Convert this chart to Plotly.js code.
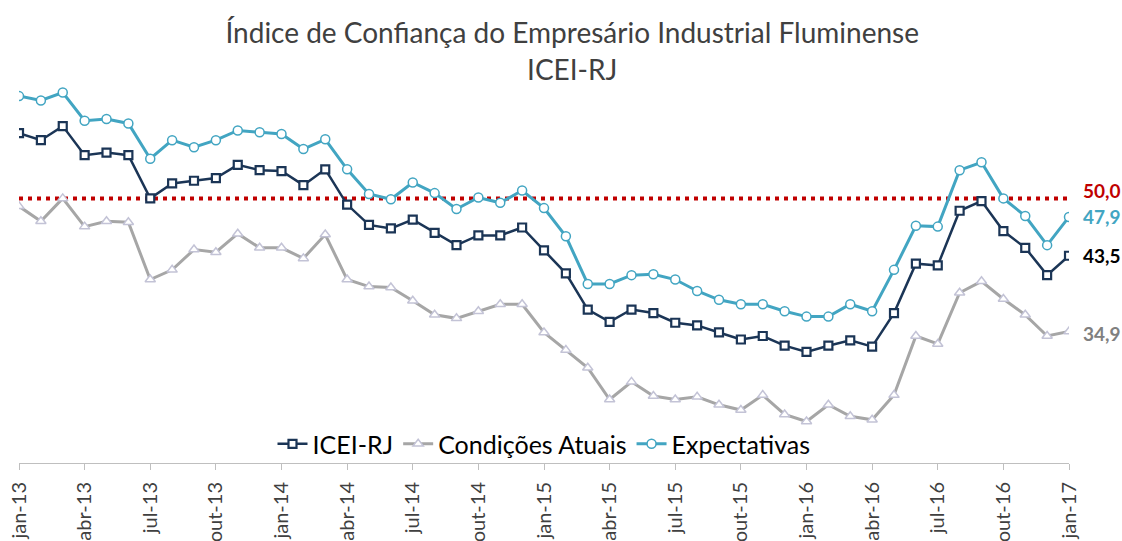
<!DOCTYPE html>
<html>
<head>
<meta charset="utf-8">
<script src="https://cdn.plot.ly/plotly-3.0.1.min.js"></script>
<style>html,body{margin:0;padding:0;background:#fff;}#chart{width:1122px;height:541px;}</style>
</head>
<body>
<div id="chart"></div>
<script>
// Months jan-13 .. jan-17 (49 points)
const months = ["jan-13","fev-13","mar-13","abr-13","mai-13","jun-13","jul-13","ago-13","set-13","out-13","nov-13","dez-13",
"jan-14","fev-14","mar-14","abr-14","mai-14","jun-14","jul-14","ago-14","set-14","out-14","nov-14","dez-14",
"jan-15","fev-15","mar-15","abr-15","mai-15","jun-15","jul-15","ago-15","set-15","out-15","nov-15","dez-15",
"jan-16","fev-16","mar-16","abr-16","mai-16","jun-16","jul-16","ago-16","set-16","out-16","nov-16","dez-16",
"jan-17"];

const icei = [57.4,56.6,58.2,54.9,55.2,54.9,50.0,51.7,52.0,52.3,53.8,53.2,
53.1,51.5,53.3,49.3,47.0,46.6,47.6,46.1,44.7,45.8,45.8,46.7,
44.1,41.5,37.4,36.0,37.4,37.0,35.9,35.6,34.8,34.0,34.4,33.3,
32.6,33.3,33.9,33.2,37.0,42.6,42.4,48.6,49.7,46.3,44.4,41.3,
43.5];

const condicoes = [49.1,47.4,50.0,46.8,47.4,47.3,40.8,41.9,44.2,43.9,46.0,44.4,
44.4,43.2,45.9,40.8,40.0,39.9,38.4,36.8,36.4,37.2,38.0,38.0,
34.8,32.8,30.8,27.2,29.2,27.6,27.2,27.5,26.6,26.0,27.7,25.5,
24.7,26.6,25.3,24.9,27.7,34.4,33.5,39.3,40.6,38.6,36.8,34.4,
34.9];

const expectativas = [61.6,61.1,62.0,58.8,59.0,58.5,54.5,56.6,55.8,56.6,57.7,57.5,
57.3,55.6,56.7,53.3,50.5,49.9,51.8,50.6,48.8,50.1,49.5,50.9,
48.9,45.7,40.3,40.3,41.3,41.4,40.8,39.5,38.5,38.0,38.0,37.2,
36.6,36.6,38.0,37.2,41.9,46.9,46.8,53.2,54.1,50.0,48.0,44.7,
47.9];

const tickLabels = ["jan-13","abr-13","jul-13","out-13","jan-14","abr-14","jul-14","out-14",
"jan-15","abr-15","jul-15","out-15","jan-16","abr-16","jul-16","out-16","jan-17"];

const threshold = 50.0;
const endLabels = ["50,0","47,9","43,5","34,9"];

const idx = months.map((m,i)=>i);
const tickIdx = tickLabels.map(t => months.indexOf(t));
const last = months.length - 1;

const FONT = "Lato, 'Open Sans', sans-serif";

const traces = [
  {x: idx, y: icei, name: "ICEI-RJ", mode: "lines+markers", type: "scatter",
   line: {color: "#1b3556", width: 2.5},
   marker: {symbol: "square", size: 8, color: "#ffffff", line: {color: "#1b3556", width: 2.2}}},
  {x: idx, y: condicoes, name: "Condições Atuais", mode: "lines+markers", type: "scatter",
   line: {color: "#a6a6a6", width: 3},
   marker: {symbol: "triangle-up", size: 9, color: "#ffffff", line: {color: "#c3c3d6", width: 1.5}}},
  {x: idx, y: expectativas, name: "Expectativas", mode: "lines+markers", type: "scatter",
   line: {color: "#42a5c2", width: 3},
   marker: {symbol: "circle", size: 9, color: "#ffffff", line: {color: "#42a5c2", width: 1.5}}}
];

const layout = {
  width: 1122, height: 541,
  margin: {l: 19, r: 53, t: 22, b: 78},
  paper_bgcolor: "#ffffff", plot_bgcolor: "#ffffff",
  font: {family: FONT, color: "#404040"},
  title: {text: "Índice de Confiança do Empresário Industrial Fluminense<br>ICEI-RJ",
          font: {family: FONT, size: 28, color: "#404040"},
          x: 0.51, xanchor: "center", y: 0.92, yanchor: "top", yref: "container"},
  showlegend: true,
  legend: {orientation: "h", x: 0.5, xanchor: "center", y: 0.043, yanchor: "middle",
           font: {family: FONT, size: 25, color: "#000000"}, bgcolor: "rgba(0,0,0,0)",
           itemwidth: 30, tracegroupgap: 0},
  xaxis: {range: [0, last], tickmode: "array", tickvals: tickIdx, ticktext: tickLabels,
          tickangle: -90, ticks: "outside", ticklen: 6, tickcolor: "#bfbfbf",
          ticklabelstandoff: 4,
          showline: true, linecolor: "#bfbfbf", linewidth: 1, showgrid: false, zeroline: false,
          tickfont: {family: FONT, size: 20, color: "#404040"}, automargin: false, fixedrange: true},
  yaxis: {range: [20, 70], visible: false, showgrid: false, zeroline: false, fixedrange: true},
  shapes: [{type: "line", xref: "x", yref: "y", x0: 0, x1: last, y0: threshold, y1: threshold,
            line: {color: "#c00000", width: 4, dash: "4px,5px"}, layer: "below"}],
  annotations: [
    {x: last, y: threshold, xref: "x", yref: "y", text: "<b>" + endLabels[0] + "</b>", showarrow: false,
     xanchor: "left", yanchor: "middle", xshift: 12, yshift: 8, font: {family: FONT, size: 19, color: "#c00000"}},
    {x: last, y: expectativas[last], xref: "x", yref: "y", text: "<b>" + endLabels[1] + "</b>", showarrow: false,
     xanchor: "left", yanchor: "middle", xshift: 12, font: {family: FONT, size: 19, color: "#42a5c2"}},
    {x: last, y: icei[last], xref: "x", yref: "y", text: "<b>" + endLabels[2] + "</b>", showarrow: false,
     xanchor: "left", yanchor: "middle", xshift: 12, font: {family: FONT, size: 19, color: "#000000"}},
    {x: last, y: condicoes[last], xref: "x", yref: "y", text: "<b>" + endLabels[3] + "</b>", showarrow: false,
     xanchor: "left", yanchor: "middle", xshift: 12, yshift: -2, font: {family: FONT, size: 19, color: "#808080"}}
  ]
};

Plotly.newPlot("chart", traces, layout, {displayModeBar: false, staticPlot: true});
</script>
</body>
</html>
